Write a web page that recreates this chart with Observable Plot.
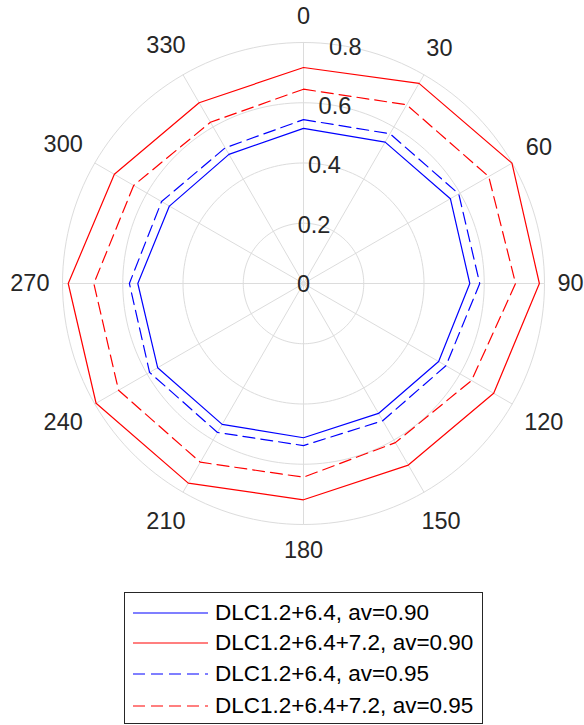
<!DOCTYPE html>
<html><head><meta charset="utf-8">
<script src="https://cdn.jsdelivr.net/npm/d3@7"></script>
<script src="https://cdn.jsdelivr.net/npm/@observablehq/plot@0.6"></script>
<style>
body{margin:0;background:#fff;font-family:"Liberation Sans",Arial,sans-serif;}
#wrap{position:relative;width:584px;height:725px;}
#legend{position:absolute;left:124px;top:592px;width:357px;height:130px;border:1px solid #262626;background:#fff;box-sizing:content-box;}
.row{position:absolute;left:0;height:30px;display:flex;align-items:center;font-size:22.5px;color:#000;white-space:nowrap;}
.row svg{margin-left:8px;margin-right:7px;}
</style></head>
<body><div id="wrap"></div>
<script>
// angles (degrees, clockwise from top)
const angles = [0, 30, 60, 90, 120, 150, 180, 210, 240, 270, 300, 330];
const blue90 = [0.515, 0.542, 0.563, 0.552, 0.518, 0.498, 0.512, 0.540, 0.559, 0.550, 0.514, 0.495];
const red90  = [0.717, 0.767, 0.799, 0.783, 0.729, 0.696, 0.718, 0.765, 0.795, 0.781, 0.725, 0.693];
const blue95 = [0.544, 0.574, 0.595, 0.585, 0.546, 0.526, 0.538, 0.571, 0.590, 0.578, 0.544, 0.520];
const red95  = [0.645, 0.685, 0.710, 0.704, 0.644, 0.610, 0.643, 0.685, 0.709, 0.696, 0.651, 0.618];
const rTicks = [0, 0.2, 0.4, 0.6, 0.8];
const rTickLabels = ["0", "0.2", "0.4", "0.6", "0.8"];
const thetaTickLabels = ["0", "30", "60", "90", "120", "150", "180", "210", "240", "270", "300", "330"];
const seriesNames = ["DLC1.2+6.4, av=0.90", "DLC1.2+6.4+7.2, av=0.90", "DLC1.2+6.4, av=0.95", "DLC1.2+6.4+7.2, av=0.95"];
const seriesColors = ["#0000ff", "#ff0000", "#0000ff", "#ff0000"];
const seriesDash = [null, null, "12,6", "12,6"];

const rMax = 0.8;
const W = 584, H = 580, cx = 303, cy = 283, Rpx = 241;
const k = Rpx / rMax;
const rad = a => a * Math.PI / 180;

function closed(vals) {
  return angles.concat([360]).map((a, i) => {
    const r = vals[i % vals.length];
    return {x: r * Math.sin(rad(a)), y: r * Math.cos(rad(a))};
  });
}
const series = [blue90, red90, blue95, red95];

const circlePts = rTicks.filter(r => r > 0).flatMap(r =>
  d3.range(0, 361, 2).map(a => ({r, x: r * Math.sin(rad(a)), y: r * Math.cos(rad(a))})));

const fs = 23.5;
const labelData = angles.map((a, i) => {
  const t = thetaTickLabels[i];
  const w = t.length * 0.556 * fs;
  const h = 26;
  const ext = 254 + Math.abs(Math.sin(rad(a))) * w / 2 + Math.abs(Math.cos(rad(a))) * h / 2;
  const r = ext / k;
  return {t, x: r * Math.sin(rad(a)), y: r * Math.cos(rad(a))};
});

const rLabAng = rad(10);
const gridColor = "#dcdcdc";

const marks = [
  Plot.line(circlePts, {x: "x", y: "y", z: "r", stroke: gridColor, strokeWidth: 1}),
  Plot.link(angles, {x1: 0, y1: 0, x2: a => rMax * Math.sin(rad(a)), y2: a => rMax * Math.cos(rad(a)), stroke: gridColor, strokeWidth: 1}),
  ...series.map((s, i) => Plot.line(closed(s), {x: "x", y: "y", stroke: seriesColors[i], strokeWidth: 1.2, strokeDasharray: seriesDash[i] || undefined, curve: "linear"})),
  Plot.text(rTicks, {x: r => r * Math.sin(rLabAng), y: r => r * Math.cos(rLabAng), text: (d, i) => rTickLabels[i], fontSize: fs, fill: "#262626", dy: 1}),
  Plot.text(labelData, {x: "x", y: "y", text: "t", fontSize: fs, fill: "#262626"})
];

const chart = Plot.plot({
  width: W, height: H,
  marginTop: 0, marginRight: 0, marginBottom: 0, marginLeft: 0,
  x: {domain: [-cx / k, (W - cx) / k], axis: null},
  y: {domain: [-(H - cy) / k, cy / k], axis: null},
  style: {fontFamily: "'Liberation Sans', Arial, sans-serif", background: "#fff", overflow: "visible"},
  marks
});
const wrap = document.getElementById("wrap");
chart.style.position = "absolute";
chart.style.left = "0"; chart.style.top = "0";
wrap.appendChild(chart);

const legend = document.createElement("div");
legend.id = "legend";
const rowTops = [5, 35, 66, 98];
seriesNames.forEach((name, i) => {
  const row = document.createElement("div");
  row.className = "row";
  row.style.top = rowTops[i] + "px";
  const dash = seriesDash[i] ? ` stroke-dasharray="${seriesDash[i]}"` : "";
  row.innerHTML = `<svg width="75" height="4"><line x1="0" y1="2" x2="75" y2="2" stroke="${seriesColors[i]}" stroke-width="1.2"${dash}/></svg><span>${name}</span>`;
  legend.appendChild(row);
});
wrap.appendChild(legend);
</script>
</body></html>
